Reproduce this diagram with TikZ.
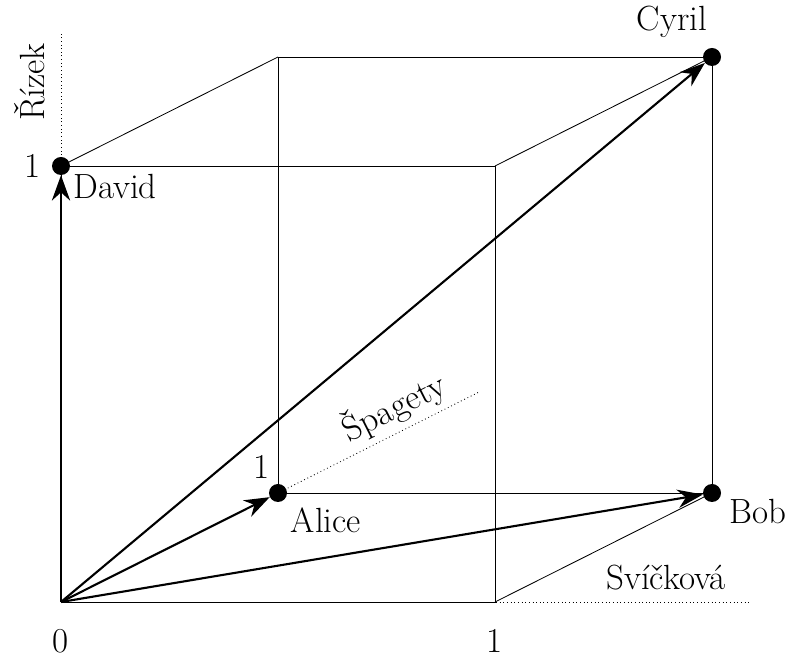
\documentclass[tikz,border=0pt]{standalone}
\usepackage{fontspec}
\usepackage{tikz}
\usetikzlibrary{arrows.meta,positioning}

\begin{document}
\begin{tikzpicture}[x=10.85cm,y=10.9cm,z={(5.425cm,2.725cm)},
    font=\Huge,
    edge/.style={line width=0.6pt},
    axis/.style={line width=0.6pt,dotted},
    vec/.style={line width=1.5pt,-{Stealth[length=18pt,width=13pt]}},
    dot/.style={circle,fill,inner sep=0pt,minimum size=0.45cm},
    tick/.style={inner sep=1pt}]
  \useasboundingbox (-1.525cm,-1.375cm) rectangle (18.275cm,15.05cm);
  % corners of the cube
  \coordinate (o) at (0,0,0);
  \coordinate (sx) at (1,0,0);
  \coordinate (sxy) at (1,1,0);
  \coordinate (sxz) at (1,0,1);
  \coordinate (syz) at (0,1,1);
  % axes
  \draw[axis] (o) -- (1.59,0,0);
  \draw[axis] (0,1,0) -- (0,1.31,0);
  \draw[axis] (0,0,1) -- (0,0,1.93);
  % people
  \node[dot] (alice) at (0,0,1) {};
  \node[dot] (bob) at (1,0,1) {};
  \node[dot] (cyril) at (1,1,1) {};
  \node[dot] (david) at (0,1,0) {};
  % cube
  \draw[edge] (o) -- (sx) -- (sxy) -- (david.center) -- (o);
  \draw[edge] (alice.center) -- (bob.center) -- (cyril.center) -- (syz) -- (alice.center);
  \draw[edge] (sx) -- (bob.center);
  \draw[edge] (sxy) -- (cyril.center);
  \draw[edge] (david.center) -- (syz);
  % vectors
  \draw[vec] (o) -- (alice);
  \draw[vec] (o) -- (bob);
  \draw[vec] (o) -- (cyril);
  \draw[vec] (o) -- (david);
  % labels
  \node[xshift=1.35cm,yshift=-0.525cm] at (david) {David};
  \node[xshift=1.2cm,yshift=-0.675cm] at (alice) {Alice};
  \node[xshift=1.15cm,yshift=-0.475cm] at (bob) {Bob};
  \node[xshift=-1.0cm,yshift=0.875cm] at (cyril) {Cyril};
  \node[tick,xshift=-0.7cm] at (david) {1};
  \node[tick,xshift=-0.4cm,yshift=0.65cm] at (alice) {1};
  \node[tick,yshift=-0.98cm] at (o) {0};
  \node[tick,yshift=-0.98cm] at (sx) {1};
  \node[xshift=4.275cm,yshift=0.6cm] at (sx) {Svíčková};
  \node[xshift=2.9cm,yshift=2.15cm,rotate=26.7] at (alice) {Špagety};
  \node[xshift=-0.775cm,yshift=2.1cm,rotate=90] at (david) {Řízek};
\end{tikzpicture}
\end{document}
